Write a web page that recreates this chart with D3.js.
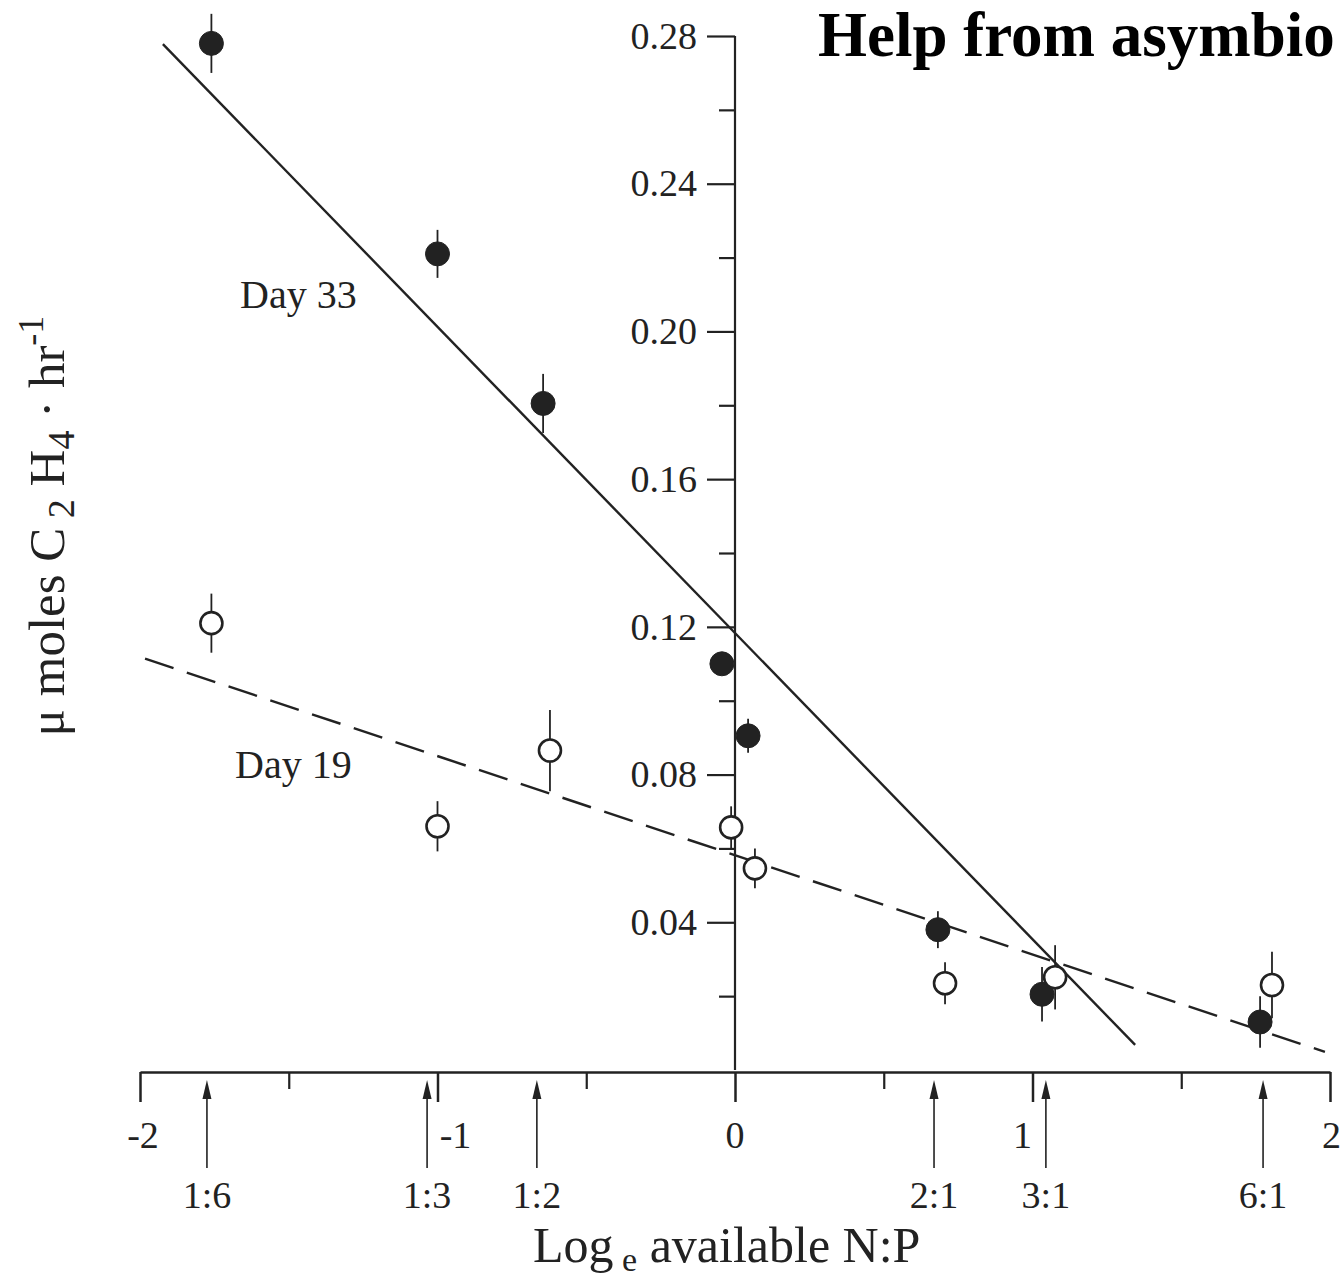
<!DOCTYPE html>
<html>
<head>
<meta charset="utf-8">
<script src="https://cdn.jsdelivr.net/npm/d3@7"></script>
<style>
  body { margin: 0; background: #fff; }
  svg { display: block; }
  text { font-family: "Liberation Serif", "Times New Roman", serif; fill: #222; }
</style>
</head>
<body>
<div id="chart"></div>
<script>
// Datos -----------------------------------------------------------------------
// Day 33 (círculos llenos)
const day33X = [-1.76, -1.0, -0.645, -0.044, 0.044, 0.682, 1.032, 1.765];
const day33Y = [0.278, 0.221, 0.1805, 0.110, 0.0905, 0.038, 0.0205, 0.013];
const day33Err = [0.008, 0.0065, 0.008, 0, 0.0046, 0.005, 0.0074, 0.007];

// Day 19 (círculos abiertos)
const day19X = [-1.76, -1.0, -0.622, -0.013, 0.067, 0.706, 1.076, 1.805];
const day19Y = [0.121, 0.066, 0.0865, 0.0657, 0.0546, 0.0235, 0.0251, 0.023];
const day19Err = [0.008, 0.0068, 0.011, 0.0057, 0.0054, 0.0057, 0.0087, 0.009];

// rectas ajustadas (extremos)
const fit33X = [-1.923, 1.345];
const fit33Y = [0.2778, 0.0068];
const fit19X = [-1.983, 1.983];
const fit19Y = [0.1114, 0.0049];

// ticks
const xMajor = [-2, -1, 0, 1, 2];
const xMinor = [-1.5, -0.5, 0.5, 1.5];
const yMajor = [0.04, 0.08, 0.12, 0.16, 0.20, 0.24, 0.28];
const yMinor = [0.02, 0.06, 0.10, 0.14, 0.18, 0.22, 0.26];

// flechas de razón N:P
const ratioLabels = ["1:6", "1:3", "1:2", "2:1", "3:1", "6:1"];
const ratioX = [-1.775, -1.035, -0.666, 0.669, 1.045, 1.775];

// -----------------------------------------------------------------------------
const WIDTH = 1340;
const HEIGHT = 1286;
const SVG = d3.select("#chart").append("svg")
    .attr("width", WIDTH).attr("height", HEIGHT);

const x = d3.scaleLinear().domain([-2, 2]).range([140, 1330]);
const y = d3.scaleLinear().domain([0, 0.28]).range([1070, 36]);
const ink = "#222";

// Eje Y (en x = 0)
const yAxisMajor = d3.axisLeft(y).tickValues(yMajor).tickSize(28).tickSizeOuter(0)
    .tickPadding(10).tickFormat(d3.format(".2f"));
const gy = SVG.append("g").attr("transform", `translate(${x(0)},0)`).call(yAxisMajor);
gy.select(".domain").attr("stroke", ink).attr("stroke-width", 2.2).attr("d", `M0,${y(0.28)}V${y(0)}`);
gy.selectAll(".tick line").attr("stroke", ink).attr("stroke-width", 2.2);
gy.selectAll(".tick text").style("font-size", "38px").attr("font-family", null).attr("fill", ink);

const gyMinor = SVG.append("g").attr("transform", `translate(${x(0)},0)`)
    .call(d3.axisLeft(y).tickValues(yMinor).tickSize(16).tickFormat(""));
gyMinor.select(".domain").remove();
gyMinor.selectAll(".tick line").attr("stroke", ink).attr("stroke-width", 2.2);

// Eje X (en y = 0)
const gx = SVG.append("g").attr("transform", `translate(0,${y(0) + 2})`)
    .call(d3.axisBottom(x).tickValues(xMajor).tickSize(30).tickSizeOuter(0).tickFormat(""));
gx.select(".domain").attr("stroke", ink).attr("stroke-width", 2.5);
gx.selectAll(".tick line").attr("stroke", ink).attr("stroke-width", 2.5);

const gxMinor = SVG.append("g").attr("transform", `translate(0,${y(0) + 2})`)
    .call(d3.axisBottom(x).tickValues(xMinor).tickSize(17).tickFormat(""));
gxMinor.select(".domain").remove();
gxMinor.selectAll(".tick line").attr("stroke", ink).attr("stroke-width", 2.2);

// etiquetas del eje X (desplazadas como en el original)
const xLabelDx = { "-2": 3, "-1": 18, "0": 0, "1": -10, "2": -8 };
SVG.selectAll("text.xlab")
    .data(xMajor)
    .enter()
    .append("text")
    .attr("class", "xlab")
    .attr("x", d => x(d) + xLabelDx[d])
    .attr("y", 1148)
    .attr("text-anchor", d => d === 2 ? "start" : "middle")
    .style("font-size", "38px")
    .text(d => d);

// Flechas N:P
const arrowTop = 1080, arrowBottom = 1168;
SVG.selectAll("line.arrow")
    .data(ratioX)
    .enter()
    .append("line")
    .attr("class", "arrow")
    .attr("x1", d => x(d)).attr("x2", d => x(d))
    .attr("y1", arrowBottom).attr("y2", arrowTop + 14)
    .attr("stroke", ink).attr("stroke-width", 1.6);
SVG.selectAll("path.arrowhead")
    .data(ratioX)
    .enter()
    .append("path")
    .attr("class", "arrowhead")
    .attr("d", d => `M${x(d)},${arrowTop} L${x(d) - 4.5},${arrowTop + 19} L${x(d) + 4.5},${arrowTop + 19} Z`)
    .attr("fill", ink);
SVG.selectAll("text.ratio")
    .data(ratioLabels)
    .enter()
    .append("text")
    .attr("class", "ratio")
    .attr("x", (d, i) => x(ratioX[i]))
    .attr("y", 1208)
    .attr("text-anchor", "middle")
    .style("font-size", "38px")
    .text(d => d);

// Rectas ajustadas
const line = d3.line().x(d => x(d[0])).y(d => y(d[1]));
SVG.append("path")
    .attr("d", line(d3.zip(fit33X, fit33Y)))
    .attr("fill", "none").attr("stroke", ink).attr("stroke-width", 2.4);
SVG.append("path")
    .attr("d", line(d3.zip(fit19X, fit19Y)))
    .attr("fill", "none").attr("stroke", ink).attr("stroke-width", 2.4)
    .attr("stroke-dasharray", "30,14");

// Barras de error + puntos
function puntos(xs, ys, errs, lleno, cls) {
    const datos = xs.map((d, i) => ({ x: d, y: ys[i], e: errs[i] }));
    SVG.selectAll("line.err" + cls)
        .data(datos.filter(d => d.e > 0))
        .enter()
        .append("line")
        .attr("class", "err" + cls)
        .attr("x1", d => x(d.x)).attr("x2", d => x(d.x))
        .attr("y1", d => y(d.y + d.e)).attr("y2", d => y(d.y - d.e))
        .attr("stroke", ink).attr("stroke-width", 1.8);
    SVG.selectAll("circle." + cls)
        .data(datos)
        .enter()
        .append("circle")
        .attr("class", cls)
        .attr("cx", d => x(d.x))
        .attr("cy", d => y(d.y))
        .attr("r", lleno ? 12 : 11)
        .attr("fill", lleno ? ink : "#fff")
        .attr("stroke", ink)
        .attr("stroke-width", lleno ? 1 : 2.6);
}
puntos(day33X, day33Y, day33Err, true, "d33");
puntos(day19X, day19Y, day19Err, false, "d19");

// Etiquetas de las series
SVG.append("text").attr("x", 240).attr("y", 308).style("font-size", "40px").text("Day 33");
SVG.append("text").attr("x", 235).attr("y", 778).style("font-size", "40px").text("Day 19");

// Título del eje X
const xt = SVG.append("text").attr("x", 533).attr("y", 1262).style("font-size", "50px");
xt.append("tspan").text("Log");
xt.append("tspan").attr("dy", 9).style("font-size", "34px").text(" e");
xt.append("tspan").attr("dy", -9).text(" available N:P");

// Título del eje Y
const yt = SVG.append("text")
    .attr("transform", "translate(64,526) rotate(-90)")
    .attr("text-anchor", "middle")
    .style("font-size", "51px");
yt.append("tspan").text("μ moles C");
yt.append("tspan").attr("dy", 10).style("font-size", "38px").text(" 2");
yt.append("tspan").attr("dy", -10).text(" H");
yt.append("tspan").attr("dy", 10).style("font-size", "38px").text("4");
yt.append("tspan").attr("dy", -10).text(" · hr");
yt.append("tspan").attr("dy", -21).style("font-size", "36px").text("-1");

// Título
SVG.append("text")
    .attr("x", 818).attr("y", 56)
    .style("font-size", "63px").style("font-weight", "bold").style("fill", "#000")
    .text("Help from asymbio");
</script>
</body>
</html>
